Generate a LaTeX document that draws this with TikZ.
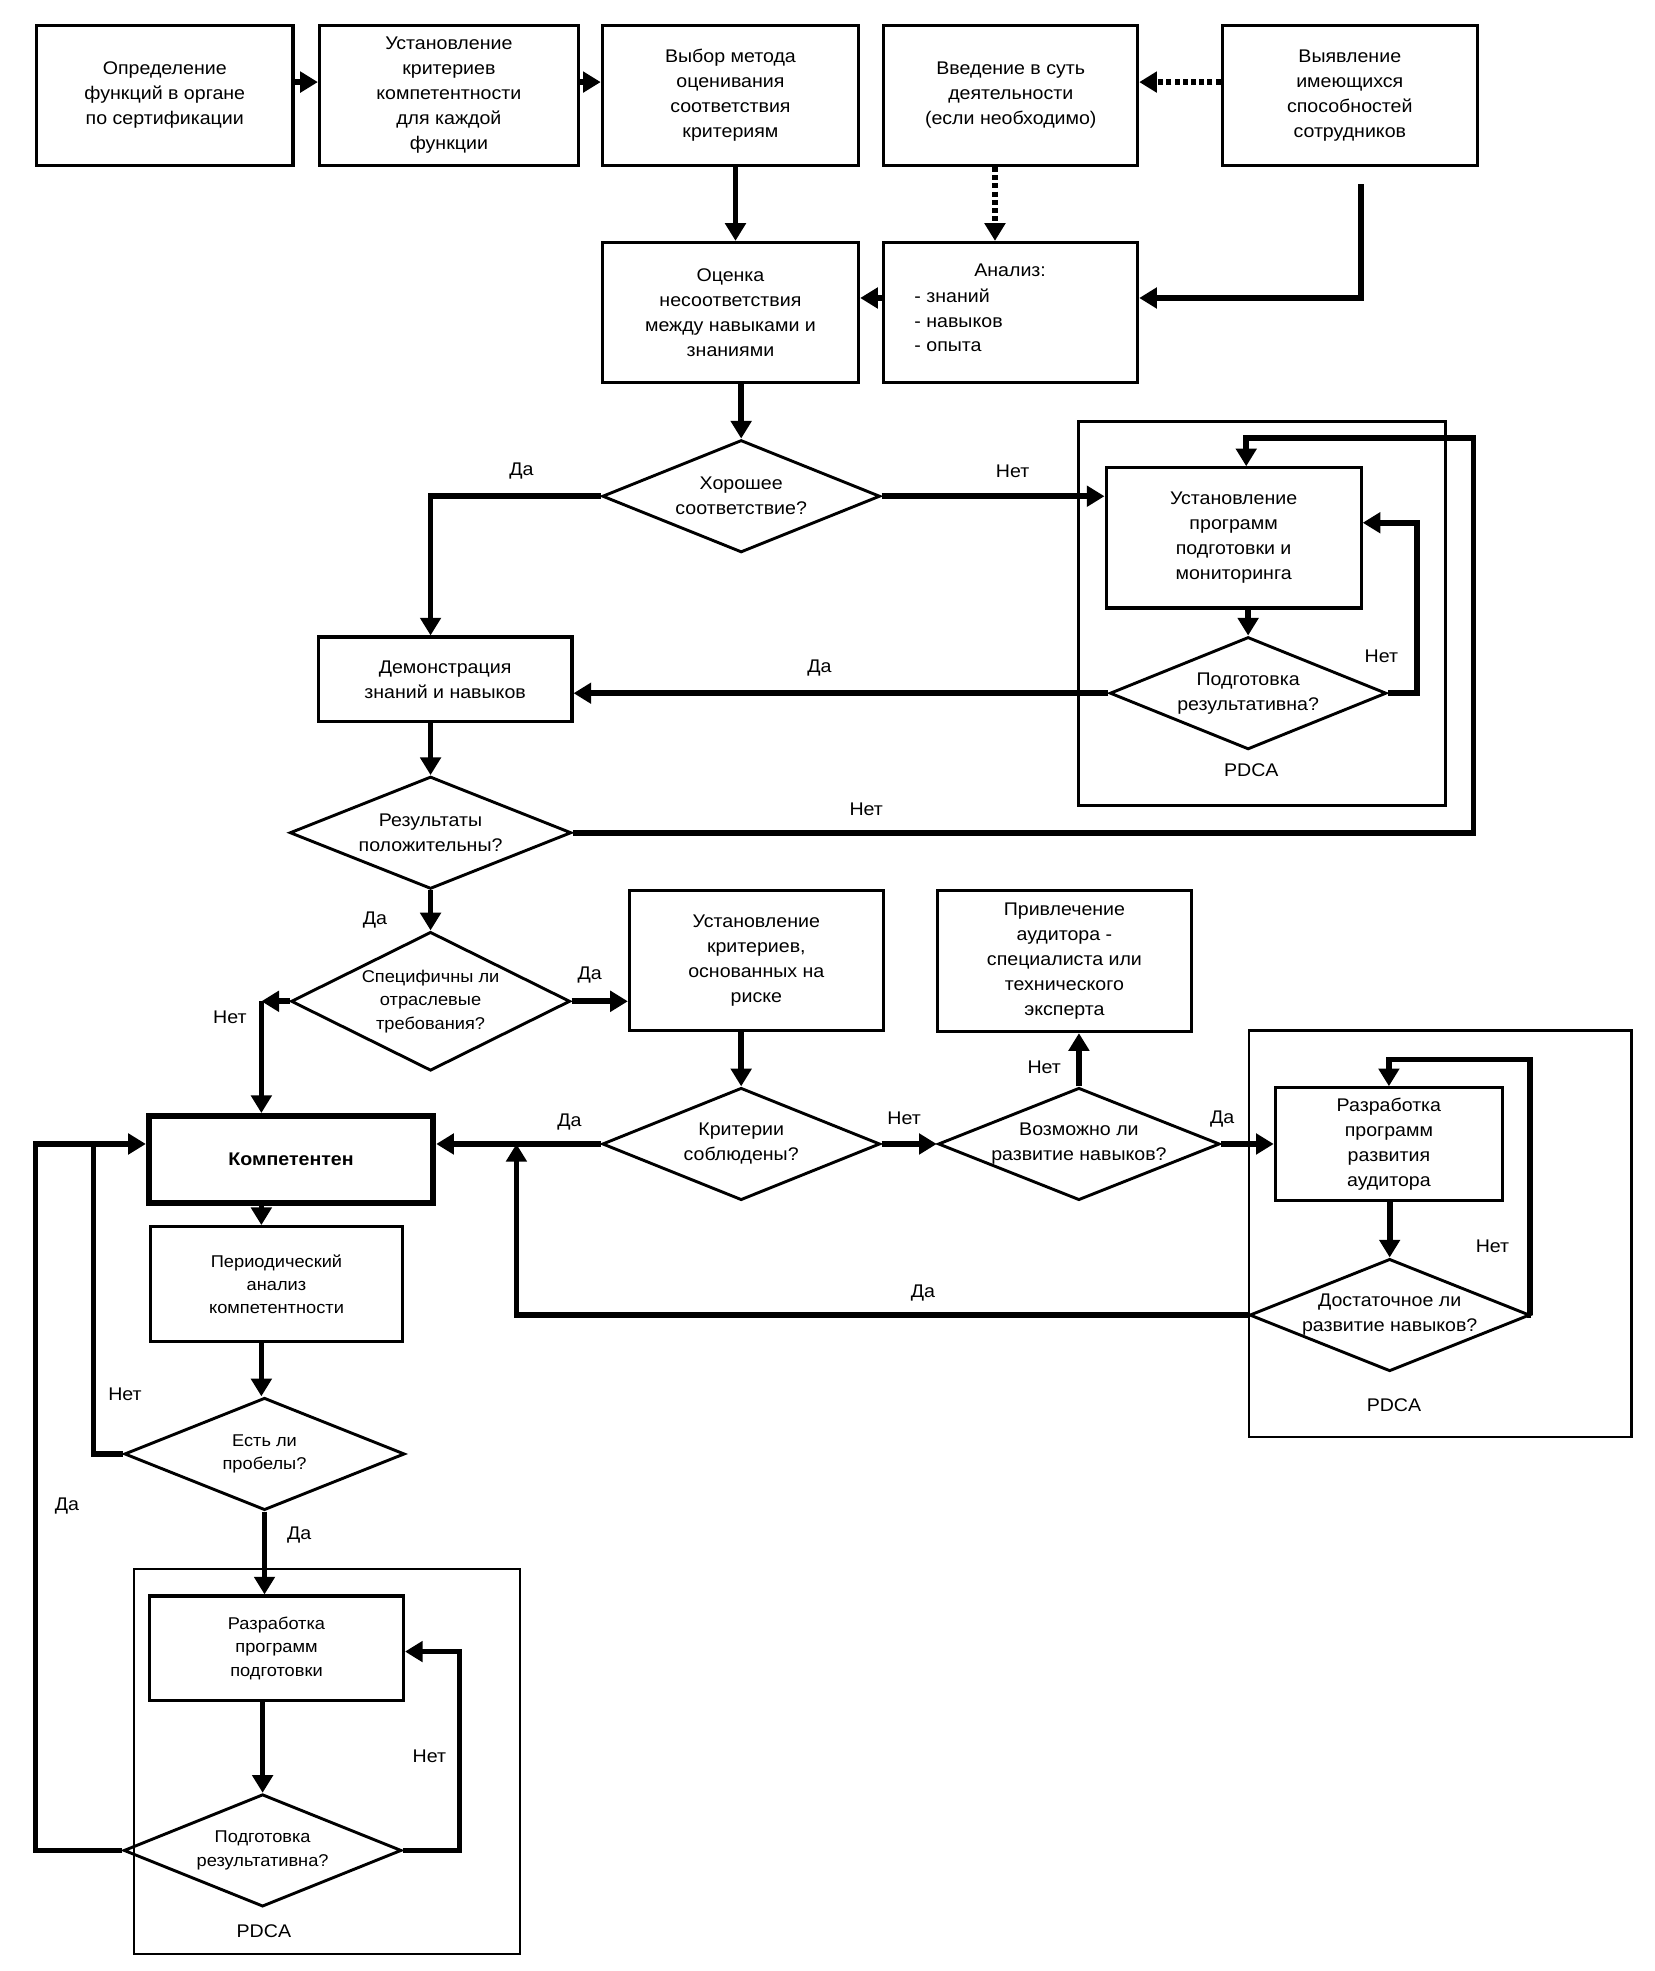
\documentclass[tikz,border=0pt]{standalone}
\usepackage{fontspec}
\setmainfont{Liberation Sans}[FakeStretch=1.07]
\usetikzlibrary{shapes.geometric,arrows.meta}
\begin{document}
\begin{tikzpicture}[x=1pt,y=-1pt,
  box/.style={draw, line width=2.5pt, align=center, inner sep=0pt, font=\fontsize{14.5}{19.8}\selectfont},
  sbox/.style={box, font=\fontsize{13.5}{18.5}\selectfont},
  dia/.style={draw, diamond, line width=2.3pt, inner sep=0pt},
  dtext/.style={align=center, inner sep=0pt, font=\fontsize{14.5}{19.8}\selectfont},
  sdtext/.style={dtext, font=\fontsize{13.5}{18.5}\selectfont},
  frame/.style={draw, line width=2pt, inner sep=0pt},
  lbl/.style={inner sep=0pt, font=\fontsize{14.5}{17}\selectfont},
  wire/.style={line width=4.5pt},
  conn/.style={wire, -{Triangle[length=14pt,width=16pt]}},
  dotconn/.style={line width=4.5pt, dash pattern=on 4pt off 2.5pt, -{Triangle[length=14pt,width=16pt]}}
]
\useasboundingbox (0,0) rectangle (1310,1561);
% frames
\node[frame, minimum width=291pt, minimum height=304pt] (f1) at (999.5,486) {};
\node[frame, minimum width=303pt, minimum height=322pt] (f2) at (1140.5,977) {};
\node[frame, minimum width=306pt, minimum height=305pt] (f3) at (259,1395) {};
\node[lbl] (p1) at (991,610) {PDCA};
\node[lbl] (p2) at (1104,1113) {PDCA};
\node[lbl] (p3) at (209,1529.5) {PDCA};
% top row
\node[box, minimum width=203pt, minimum height=111pt] (b1) at (130.5,75.5) {Определение\\функций в органе\\по сертификации};
\node[box, minimum width=205pt, minimum height=111pt] (b2) at (355.5,75.5) {Установление\\критериев\\компетентности\\для каждой\\функции};
\node[box, minimum width=203pt, minimum height=111pt] (b3) at (578.5,75.5) {Выбор метода\\оценивания\\соответствия\\критериям};
\node[box, minimum width=201pt, minimum height=111pt] (b4) at (800.5,75.5) {Введение в суть\\деятельности\\(если необходимо)};
\node[box, minimum width=202pt, minimum height=111pt] (b5) at (1069,75.5) {Выявление\\имеющихся\\способностей\\сотрудников};
% second row
\node[box, minimum width=203pt, minimum height=111pt] (b6) at (578.5,247.5) {Оценка\\несоответствия\\между навыками и\\знаниями};
\node[box, minimum width=201pt, minimum height=111pt] (b7) at (800.5,247.5) {};
\node[dtext] (b7t) at (800,214) {Анализ:};
\node[dtext, align=left, anchor=north west, font=\fontsize{14.5}{19.2}\selectfont] (b7l) at (724,229) {- знаний\\- навыков\\- опыта};
% middle
\node[dia, minimum width=220pt, minimum height=89pt] (d1) at (587,393) {};
\node[dtext] at (d1) {Хорошее\\соответствие?};
\node[box, minimum width=202pt, minimum height=111pt] (b8) at (977,426) {Установление\\программ\\подготовки и\\мониторинга};
\node[dia, minimum width=219pt, minimum height=89pt] (d2) at (988.5,549) {};
\node[dtext] at (d2) {Подготовка\\результативна?};
\node[box, minimum width=201pt, minimum height=67pt] (demo) at (352.5,538) {Демонстрация\\знаний и навыков};
\node[dia, minimum width=223pt, minimum height=89pt] (d3) at (341,659.5) {};
\node[dtext] at (d3) {Результаты\\положительны?};
\node[dia, minimum width=221pt, minimum height=110pt] (d4) at (341,793) {};
\node[sdtext] at (d4) {Специфичны ли\\отраслевые\\требования?};
\node[box, minimum width=201pt, minimum height=111pt] (risk) at (599,760.5) {Установление\\критериев,\\основанных на\\риске};
\node[box, minimum width=201pt, minimum height=112pt] (privl) at (843,761) {Привлечение\\аудитора -\\специалиста или\\технического\\эксперта};
\node[dia, minimum width=220pt, minimum height=89pt] (d5) at (587,906) {};
\node[dtext] at (d5) {Критерии\\соблюдены?};
\node[dia, minimum width=223pt, minimum height=89pt] (d6) at (854.5,906) {};
\node[dtext] at (d6) {Возможно ли\\развитие навыков?};
\node[box, minimum width=180pt, minimum height=89pt] (razr) at (1100,906) {Разработка\\программ\\развития\\аудитора};
\node[dia, minimum width=222pt, minimum height=89pt] (d7) at (1100.6,1041.5) {};
\node[dtext] at (d7) {Достаточное ли\\развитие навыков?};
% bottom left
\node[box, line width=5pt, minimum width=225pt, minimum height=69pt, font=\fontsize{14.5}{19.8}\selectfont\bfseries] (komp) at (230.5,918.5) {Компетентен};
\node[sbox, minimum width=200pt, minimum height=91pt] (period) at (219,1017) {Периодический\\анализ\\компетентности};
\node[dia, minimum width=222pt, minimum height=89pt] (d8) at (209.5,1151.5) {};
\node[sdtext] at (d8) {Есть ли\\пробелы?};
\node[sbox, minimum width=201pt, minimum height=83pt] (prog) at (219,1305.5) {Разработка\\программ\\подготовки};
\node[dia, minimum width=220pt, minimum height=89pt] (d9) at (208,1465.5) {};
\node[sdtext] at (d9) {Подготовка\\результативна?};
% coordinates
\coordinate (c5) at (1078,146);
\coordinate (l1) at (1122,414);
\coordinate (l2) at (1167,347);
\coordinate (l3) at (207,793);
\coordinate (l4) at (1211.6,839);
\coordinate (l5) at (409,1041.5);
\coordinate (l6) at (74,906);
\coordinate (l7) at (28,906);
\coordinate (l8) at (364,1308);
% connectors top
\draw[conn] ([yshift=10.5pt]b1.east) -- ([yshift=10.5pt]b2.west);
\draw[conn] ([yshift=10.5pt]b2.east) -- ([yshift=10.5pt]b3.west);
\draw[dotconn] ([yshift=10.5pt]b5.west) -- ([yshift=10.5pt]b4.east);
\draw[dotconn] ([xshift=-12.5pt]b4.south) -- ([xshift=-12.5pt]b7.north);
\draw[conn] ([xshift=4pt]b3.south) -- ([xshift=4pt]b6.north);
\draw[conn] (c5) |- ([yshift=11.5pt]b7.east);
\draw[conn] ([yshift=11.5pt]b7.west) -- ([yshift=11.5pt]b6.east);
\draw[conn] (b6.south -| d1.north) -- (d1.north);
% middle
\draw[conn] (d1.west) -| ([xshift=-11.5pt]demo.north);
\node[lbl] at (413,373) {Да};
\draw[conn] (d1.east) -- (d1.east -| b8.west);
\node[lbl] at (802,373) {Нет};
\draw[conn] (b8.south -| d2.north) -- (d2.north);
\draw[conn] (d2.east) -| (l1) -- (l1 -| b8.east);
\node[lbl] at (1094,520) {Нет};
\draw[conn] (d2.west) -- (d2.west -| demo.east);
\node[lbl] at (649,529) {Да};
\draw[conn] (demo.south -| d3.north) -- (d3.north);
\draw[conn] (d3.east) -| (l2) -| ([xshift=10pt]b8.north);
\node[lbl] at (686,641) {Нет};
\draw[conn] (d3.south) -- (d4.north);
\node[lbl] at (297,729) {Да};
\draw[conn] (d4.east) -- (d4.east -| risk.west);
\node[lbl] at (467,772) {Да};
\draw[conn] (d4.west) -- (l3);
\draw[conn] (l3) -- (l3 |- komp.north);
\node[lbl] at (182,806) {Нет};
\draw[conn] (risk.south -| d5.north) -- (d5.north);
\draw[conn] (d5.west) -- (d5.west -| komp.east);
\node[lbl] at (451,889) {Да};
\draw[conn] (d5.east) -- (d6.west);
\node[lbl] at (716,886) {Нет};
\draw[conn] (d6.north) -- (d6.north |- privl.south);
\node[lbl] at (827,845) {Нет};
\draw[conn] (d6.east) -- (d6.east -| razr.west);
\node[lbl] at (968,886) {Да};
\draw[conn] (razr.south -| d7.north) -- (d7.north);
\draw[conn] (d7.east) -| (l4) -| (razr.north);
\node[lbl] at (1182,987) {Нет};
\draw[conn] (d7.west) -- (l5) -- (l5 |- d5.west);
\node[lbl] at (731,1024) {Да};
% bottom left
\draw[conn] (komp.south -| l3) -- (period.north -| l3);
\draw[conn] (period.south -| l3) -- (d8.north -| l3);
\draw[wire] (d8.west) -| (l6);
\node[lbl] at (99,1104) {Нет};
\draw[conn] (d9.west) -| (l7) -- (l7 -| komp.west);
\node[lbl] at (53,1193) {Да};
\draw[conn] (d8.south) -- (d8.south |- prog.north);
\node[lbl] at (237,1216) {Да};
\draw[conn] (prog.south -| d9.north) -- (d9.north);
\draw[conn] (d9.east) -| (l8) -- (l8 -| prog.east);
\node[lbl] at (340,1391) {Нет};
\end{tikzpicture}
\end{document}
